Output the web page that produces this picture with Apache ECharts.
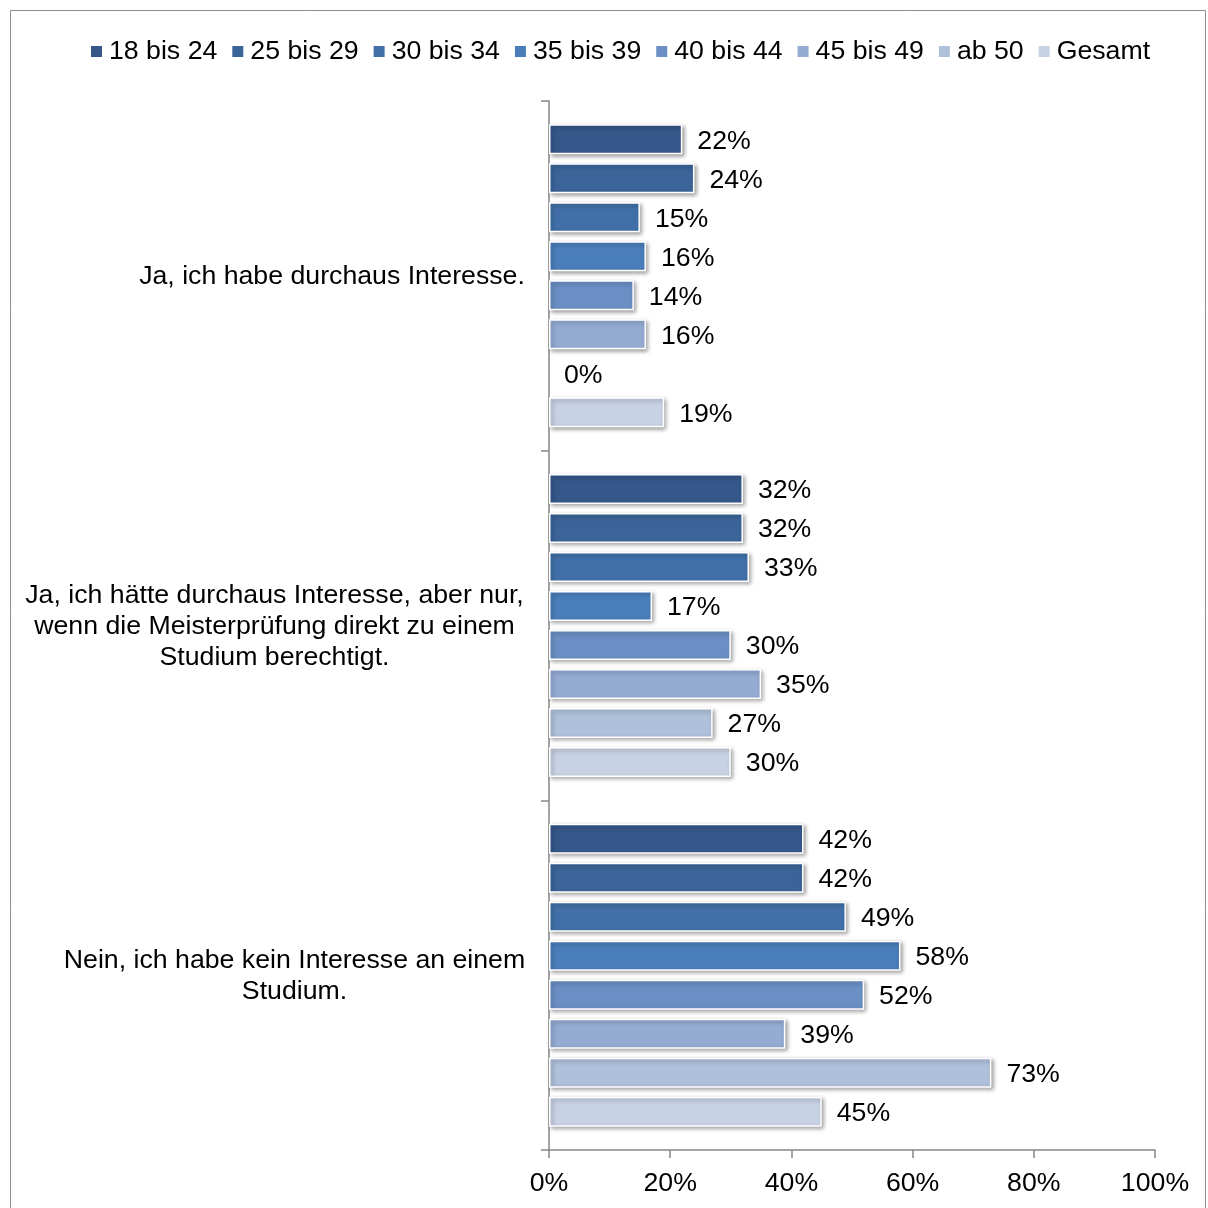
<!DOCTYPE html>
<html>
<head>
<meta charset="utf-8">
<script src="https://cdn.jsdelivr.net/npm/echarts@6/dist/echarts.min.js"></script>
<style>
  html, body { margin: 0; padding: 0; background: #fff; }
  #chart { width: 1208px; height: 1208px; }
</style>
</head>
<body>
<div id="chart"></div>
<script type="text/javascript">
    var categories = [
        'Ja, ich habe durchaus Interesse.',
        'Ja, ich hätte durchaus Interesse, aber nur,\nwenn die Meisterprüfung direkt zu einem\nStudium berechtigt.',
        'Nein, ich habe kein Interesse an einem\nStudium.'
    ];
    var groups = ['18 bis 24', '25 bis 29', '30 bis 34', '35 bis 39', '40 bis 44', '45 bis 49', 'ab 50', 'Gesamt'];
    var v18 = [22, 32, 42];
    var v25 = [24, 32, 42];
    var v30 = [15, 33, 49];
    var v35 = [16, 17, 58];
    var v40 = [14, 30, 52];
    var v45 = [16, 35, 39];
    var v50 = [0, 27, 73];
    var vGes = [19, 30, 45];
    var values = [v18, v25, v30, v35, v40, v45, v50, vGes];
    var xTicks = [0, 20, 40, 60, 80, 100];

    var colors = ['#35578a', '#3b6499', '#4170a8', '#4a7ebb', '#6b8fc4', '#94abd2', '#afc0db', '#c8d2e5'];
    var font = 'Liberation Sans, Arial, sans-serif';
    var fs = 26.7;

    var series = groups.map(function (name, i) {
        return {
            name: name,
            type: 'bar',
            data: values[i].map(function (v) {
                // a zero bar draws nothing, only its label
                if (v === 0) {
                    return { value: v, itemStyle: { borderWidth: 0, shadowBlur: 0, shadowOffsetX: 0, shadowOffsetY: 0, opacity: 0 } };
                }
                return v;
            }),
            barWidth: 30,
            barGap: '30%',
            itemStyle: {
                color: colors[i],
                borderColor: '#ffffff',
                borderWidth: 1.5,
                shadowColor: 'rgba(0,0,0,0.35)',
                shadowBlur: 4,
                shadowOffsetX: 2,
                shadowOffsetY: 2
            },
            label: {
                show: true,
                position: 'right',
                distance: 15,
                offset: [0, 2],
                formatter: '{c}%',
                color: '#000',
                opacity: 1,
                fontSize: fs,
                fontFamily: font
            },
            emphasis: { disabled: true }
        };
    });

    var myChart = echarts.init(document.getElementById('chart'));
    myChart.setOption({
        animation: false,
        color: colors,
        textStyle: { fontFamily: font },
        graphic: [{
            type: 'rect',
            shape: { x: 10.5, y: 10.5, width: 1195, height: 1220 },
            style: { fill: 'none', stroke: '#8c8c8c', lineWidth: 1 },
            silent: true
        }],
        legend: {
            top: 33,
            left: 86,
            icon: 'rect',
            itemWidth: 11,
            itemHeight: 11,
            itemGap: 15,
            itemStyle: { borderWidth: 0, shadowBlur: 0, shadowOffsetX: 0, shadowOffsetY: 0 },
            textStyle: { fontSize: fs, color: '#000', fontFamily: font, padding: [0, 0, 0, 2] },
            data: groups
        },
        grid: { left: 549, right: 53, top: 101, bottom: 58, containLabel: false },
        xAxis: {
            type: 'value',
            min: 0,
            max: 100,
            interval: 20,
            splitLine: { show: false },
            axisLine: { show: true, lineStyle: { color: '#868686', width: 1.5 } },
            axisTick: { show: true, length: 8, lineStyle: { color: '#868686', width: 1.5 } },
            axisLabel: {
                margin: 20,
                fontSize: fs,
                color: '#000',
                fontFamily: font,
                formatter: function (v) { return xTicks.indexOf(v) >= 0 ? v + '%' : ''; }
            }
        },
        yAxis: {
            type: 'category',
            inverse: true,
            data: categories,
            axisLine: { show: true, lineStyle: { color: '#868686', width: 1.5 } },
            axisTick: { show: true, length: 8, inside: false, lineStyle: { color: '#868686', width: 1.5 } },
            axisLabel: {
                margin: 24,
                formatter: function (v, idx) {
                    var key = 'c' + idx;
                    return v.split('\n').map(function (line) {
                        return '{' + key + '|' + line + '}';
                    }).join('\n');
                },
                rich: {
                    c0: { width: 386, align: 'center', fontSize: fs, lineHeight: 31, padding: [2, 0, 0, 0], color: '#000', fontFamily: font },
                    c1: { width: 501, align: 'center', fontSize: fs, lineHeight: 31, padding: [2, 0, 0, 0], color: '#000', fontFamily: font },
                    c2: { width: 461, align: 'center', fontSize: fs, lineHeight: 31, padding: [2, 0, 0, 0], color: '#000', fontFamily: font }
                }
            }
        },
        series: series
    });
</script>
</body>
</html>
